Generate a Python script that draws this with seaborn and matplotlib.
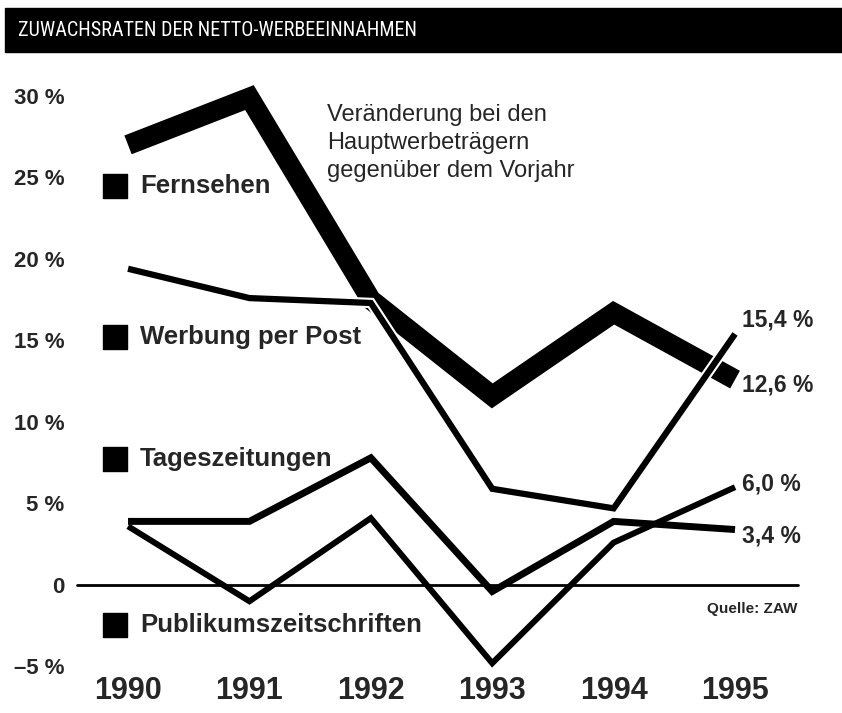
import pandas as pd
import numpy as np
import matplotlib
matplotlib.use("Agg")
import matplotlib.pyplot as plt
import matplotlib.patheffects as pe
from matplotlib.patches import Rectangle
from matplotlib import font_manager
import seaborn as sns

# ===================================================
# DATA
# ===================================================

years = [1990, 1991, 1992, 1993, 1994, 1995]

fernsehen = [27.0, 29.9, 17.5, 11.6, 16.7, 12.6]
werbung_post = [19.4, 17.6, 17.3, 5.9, 4.7, 15.4]
tageszeitungen = [3.9, 3.9, 7.8, -0.4, 3.9, 3.4]
publikum = [3.6, -1.0, 4.1, -4.8, 2.6, 6.0]

series_names = ["Fernsehen", "Werbung per Post", "Tageszeitungen", "Publikumszeitschriften"]
end_labels = ["12,6 %", "15,4 %", "3,4 %", "6,0 %"]

ytick_vals = [-5, 0, 5, 10, 15, 20, 25, 30]
ytick_labels = ["\u20135 %", "0", "5 %", "10 %", "15 %", "20 %", "25 %", "30 %"]

title = "ZUWACHSRATEN DER NETTO-WERBEEINNAHMEN"
note = "Veränderung bei den\nHauptwerbeträgern\ngegenüber dem Vorjahr"
source = "Quelle: ZAW"

df = pd.DataFrame({
    "Jahr": years * 4,
    "Wert": fernsehen + werbung_post + tageszeitungen + publikum,
    "Medium": np.repeat(series_names, len(years)),
})

# ===================================================
# STYLE
# ===================================================

sns.set_theme(style="white")
plt.rcParams["font.family"] = ["Liberation Sans", "DejaVu Sans"]

# pick a condensed face for the title bar if one is installed
installed = {f.name for f in font_manager.fontManager.ttflist}
title_font = "Liberation Sans"
for cand in ["Roboto Condensed", "Open Sans Condensed", "Liberation Sans Narrow", "DejaVu Sans Condensed"]:
    if cand in installed:
        title_font = cand
        break

line_widths = [14.5, 4.5, 5.0, 4.3]
label_y = [24.5, 15.2, 7.7, -2.45]          # labels with squares inside the plot
label_dy = [-4, 10, -5, 2]                  # end label offsets (points)

fig = plt.figure(figsize=(8.42, 7.13), dpi=100)
ax = fig.add_axes([70 / 842, 41 / 713, 730 / 842, 592 / 713])

# thick TV line first, the thin ones on top
for i, name in enumerate(series_names):
    sub = df[df["Medium"] == name]
    kw = {}
    if name == "Werbung per Post":
        kw["path_effects"] = [pe.Stroke(linewidth=line_widths[i] + 3, foreground="white"), pe.Normal()]
    sns.lineplot(
        data=sub, x="Jahr", y="Wert", ax=ax, color="black",
        linewidth=line_widths[i], solid_joinstyle="miter",
        solid_capstyle="butt", zorder=2 + i, clip_on=False, **kw
    )

ax.axhline(0, xmin=0.01, xmax=0.997, color="black", lw=2, zorder=1)

ax.set_xlim(1989.522, 1995.535)
ax.set_ylim(-5.34, 30.98)
ax.set_xticks(years)
ax.set_xticklabels([str(y) for y in years], fontsize=22, fontweight="bold")
ax.set_yticks(ytick_vals)
ax.set_yticklabels(ytick_labels, fontsize=16, fontweight="bold")
ax.tick_params(axis="x", length=0, pad=3)
ax.tick_params(axis="y", length=0, pad=4)
ax.set_xlabel("")
ax.set_ylabel("")
sns.despine(ax=ax, left=True, bottom=True)
ax.grid(False)

# labels with black squares
for name, ly in zip(series_names, label_y):
    ax.scatter([1989.893], [ly], marker="s", s=17 ** 2, color="black", clip_on=False)
    ax.text(1990.10, ly, name, fontsize=18.5, fontweight="bold", va="center", ha="left")

# end values
end_vals = [fernsehen[-1], werbung_post[-1], tageszeitungen[-1], publikum[-1]]
for val, lab, dy in zip(end_vals, end_labels, label_dy):
    ax.annotate(lab, xy=(years[-1], val), xytext=(5, dy), textcoords="offset points",
                fontsize=16.5, fontweight="bold", va="center", ha="left")

ax.text(1995.513, -1.45, source, fontsize=11, fontweight="bold", ha="right", va="center")

# title bar
fig.patches.append(Rectangle((5 / 842, 1 - 52 / 713), 837 / 842, 44 / 713,
                             transform=fig.transFigure, color="black", zorder=0))
title_size = 14.5 if title_font != "Liberation Sans" else 14
fig.text(18 / 842, 1 - 31 / 713, title, color="white", fontsize=title_size,
         family=[title_font, "DejaVu Sans"], va="center")

fig.text(327 / 842, 1 - 104 / 713, note, fontsize=17, va="top", ha="left", linespacing=1.35)

fig.savefig("out.png", dpi=100)
